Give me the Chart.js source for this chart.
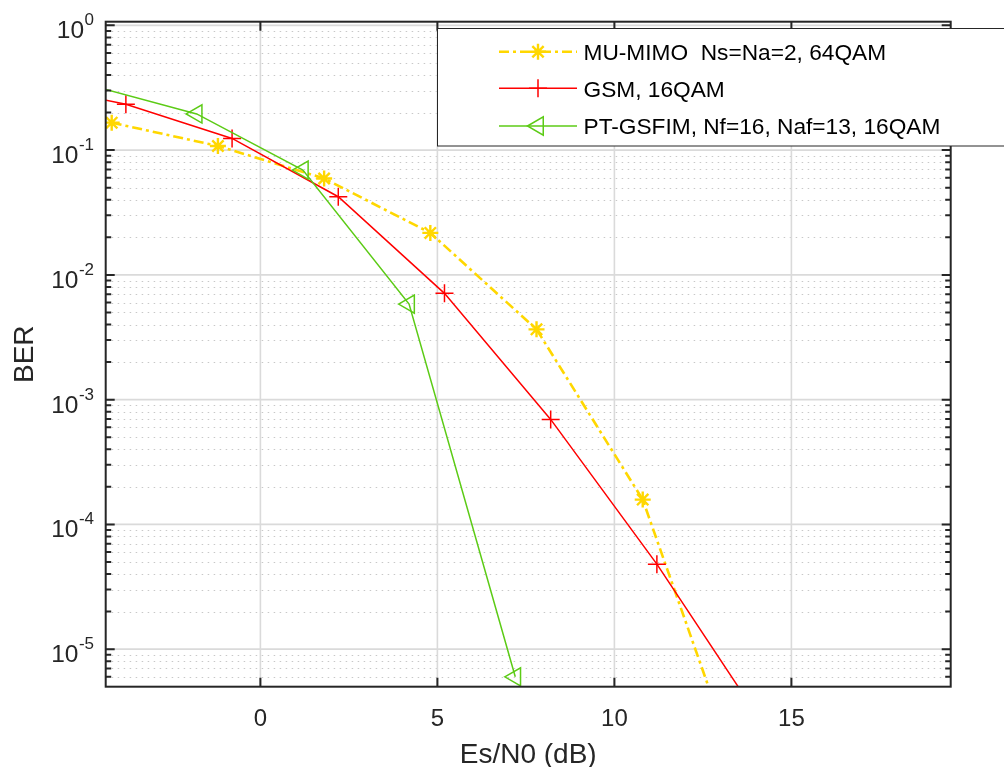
<!DOCTYPE html>
<html>
<head>
<meta charset="utf-8">
<title>BER vs Es/N0</title>
<script src="https://cdn.jsdelivr.net/npm/chart.js@4.4.0/dist/chart.umd.min.js"></script>
<style>
  html, body { margin: 0; padding: 0; background: #fff; }
  #wrap { width: 1004px; height: 767px; position: relative; }
</style>
</head>
<body>
<div id="wrap"><canvas id="berChart"></canvas></div>
<script>
// Values
const snrMimo  = [-4.2, -1.2, 1.8, 4.8, 7.8, 10.8, 13.8];
const berMimo  = [0.166, 0.108, 0.0593, 0.0217, 0.00366, 1.58e-4, 6e-7];
const snrGsm   = [-6.8, -3.8, -0.8, 2.2, 5.2, 8.2, 11.2, 14.2];
const berGsm   = [0.35, 0.233, 0.124, 0.0423, 0.00711, 6.94e-4, 4.8e-5, 2.5e-6];
const snrGsfim = [-4.8, -1.8, 1.2, 4.2, 7.2];
const berGsfim = [0.331, 0.195, 0.0692, 0.00583, 6.0e-6];

const seriesNames = ['MU-MIMO  Ns=Na=2, 64QAM', 'GSM, 16QAM', 'PT-GSFIM, Nf=16, Naf=13, 16QAM'];
const xTicks = [0, 5, 10, 15];
const yExponents = [0, -1, -2, -3, -4, -5];
const xTitle = 'Es/N0 (dB)';
const yTitle = 'BER';

const FONT = '"Liberation Sans", Arial, Helvetica, sans-serif';
const AXIS = '#262626';
const YELLOW = '#ffd700';
const RED = '#ff0000';
const GREEN = '#5ccb16';

function toPoints(xs, ys) {
    return xs.map((x, i) => ({ x: x, y: ys[i] }));
}

// marker shapes for the legend (same look as the chart points)
function drawMarker(ctx, kind, x, y, r) {
    ctx.beginPath();
    if (kind === 'star') {
        const d = r * Math.SQRT1_2;
        ctx.moveTo(x - r, y); ctx.lineTo(x + r, y);
        ctx.moveTo(x, y - r); ctx.lineTo(x, y + r);
        ctx.moveTo(x - d, y - d); ctx.lineTo(x + d, y + d);
        ctx.moveTo(x - d, y + d); ctx.lineTo(x + d, y - d);
    } else if (kind === 'cross') {
        ctx.moveTo(x - r, y); ctx.lineTo(x + r, y);
        ctx.moveTo(x, y - r); ctx.lineTo(x, y + r);
    } else {
        const h = r * Math.sin(Math.PI / 3);
        ctx.moveTo(x - r, y);
        ctx.lineTo(x + r / 2, y - h);
        ctx.lineTo(x + r / 2, y + h);
        ctx.closePath();
    }
    ctx.stroke();
}

function minorValues(yScale) {
    const out = [];
    for (let k = -6; k <= 0; k++) {
        for (let m = 2; m <= 9; m++) {
            const v = m * Math.pow(10, k);
            if (v > yScale.min && v < yScale.max) out.push(v);
        }
    }
    return out;
}

// MATLAB-like axes: grid, box, inward ticks, labels, legend
const matlabAxes = {
    id: 'matlabAxes',
    beforeDatasetsDraw(chart) {
        const { ctx, chartArea: a, scales: { x, y } } = chart;
        ctx.save();
        ctx.beginPath();
        ctx.rect(a.left, a.top, a.right - a.left, a.bottom - a.top);
        ctx.clip();

        // minor grid (dotted)
        ctx.strokeStyle = '#c8c8c8';
        ctx.lineWidth = 1;
        ctx.setLineDash([1.5, 4.5]);
        minorValues(y).forEach(v => {
            const py = Math.round(y.getPixelForValue(v)) + 0.5;
            ctx.beginPath(); ctx.moveTo(a.left, py); ctx.lineTo(a.right, py); ctx.stroke();
        });

        // major grid
        ctx.setLineDash([]);
        ctx.strokeStyle = '#dadada';
        ctx.lineWidth = 1.6;
        yExponents.forEach(e => {
            const py = y.getPixelForValue(Math.pow(10, e));
            ctx.beginPath(); ctx.moveTo(a.left, py); ctx.lineTo(a.right, py); ctx.stroke();
        });
        xTicks.forEach(t => {
            const px = x.getPixelForValue(t);
            ctx.beginPath(); ctx.moveTo(px, a.top); ctx.lineTo(px, a.bottom); ctx.stroke();
        });
        ctx.restore();
    },
    afterDatasetsDraw(chart) {
        const { ctx, chartArea: a, scales: { x, y } } = chart;
        ctx.save();
        ctx.strokeStyle = AXIS;
        ctx.lineWidth = 2;

        // ticks, pointing inward
        const major = 9, minor = 5.5;
        ctx.beginPath();
        xTicks.forEach(t => {
            const px = x.getPixelForValue(t);
            ctx.moveTo(px, a.bottom); ctx.lineTo(px, a.bottom - major);
            ctx.moveTo(px, a.top); ctx.lineTo(px, a.top + major);
        });
        yExponents.forEach(e => {
            const py = y.getPixelForValue(Math.pow(10, e));
            ctx.moveTo(a.left, py); ctx.lineTo(a.left + major, py);
            ctx.moveTo(a.right, py); ctx.lineTo(a.right - major, py);
        });
        minorValues(y).forEach(v => {
            const py = y.getPixelForValue(v);
            ctx.moveTo(a.left, py); ctx.lineTo(a.left + minor, py);
            ctx.moveTo(a.right, py); ctx.lineTo(a.right - minor, py);
        });
        ctx.stroke();

        // box
        ctx.strokeRect(a.left, a.top, a.right - a.left, a.bottom - a.top);

        // x tick labels
        ctx.fillStyle = AXIS;
        ctx.font = '24px ' + FONT;
        ctx.textAlign = 'center';
        ctx.textBaseline = 'alphabetic';
        xTicks.forEach(t => {
            ctx.fillText(String(t), x.getPixelForValue(t), a.bottom + 39.5);
        });

        // y tick labels as 10^k
        const right = 94;
        yExponents.forEach(e => {
            const py = y.getPixelForValue(Math.pow(10, e));
            const expText = e === 0 ? '0' : '-' + Math.abs(e);
            ctx.textAlign = 'left';
            ctx.font = '17px ' + FONT;
            const ew = ctx.measureText(expText).width;
            ctx.fillText(expText, right - ew, py);
            ctx.font = '24.5px ' + FONT;
            const bw = ctx.measureText('10').width;
            ctx.fillText('10', right - ew - bw - 0.5, py + 13);
        });

        // axis titles
        ctx.font = '28px ' + FONT;
        ctx.textAlign = 'center';
        ctx.fillText(xTitle, (a.left + a.right) / 2, 763);
        ctx.translate(33, (a.top + a.bottom) / 2);
        ctx.rotate(-Math.PI / 2);
        ctx.fillText(yTitle, 0, 0);
        ctx.restore();
    },
    afterDraw(chart) {
        const { ctx } = chart;
        const ds = chart.data.datasets;
        ctx.save();
        // legend box (runs past the right edge like the original)
        ctx.fillStyle = '#ffffff';
        ctx.fillRect(437.5, 28.5, 600, 117.5);
        ctx.strokeStyle = AXIS;
        ctx.lineWidth = 1;
        ctx.strokeRect(437.5, 28.5, 600, 117.5);

        const rows = [51.7, 88.3, 126];
        const kinds = ['star', 'cross', 'triangle'];
        ctx.font = '22.7px ' + FONT;
        ctx.textAlign = 'left';
        ctx.textBaseline = 'alphabetic';
        rows.forEach((ry, i) => {
            const d = ds[i];
            ctx.strokeStyle = d.borderColor;
            ctx.lineWidth = d.borderWidth;
            ctx.setLineDash(d.borderDash || []);
            ctx.beginPath(); ctx.moveTo(499, ry); ctx.lineTo(577, ry); ctx.stroke();
            ctx.setLineDash([]);
            ctx.lineWidth = d.pointBorderWidth;
            drawMarker(ctx, kinds[i], 538, ry, d.pointRadius);
            ctx.fillStyle = '#000000';
            ctx.fillText(d.label, 583.5, ry + 8.2);
        });
        ctx.restore();
    }
};

const ctx = document.getElementById('berChart').getContext('2d');
const berChart = new Chart(ctx, {
    type: 'line',
    data: {
        datasets: [{
            label: seriesNames[0],
            data: toPoints(snrMimo, berMimo),
            borderColor: YELLOW,
            borderWidth: 2.6,
            borderDash: [10, 4, 3, 4],
            pointStyle: 'star',
            pointRadius: 8,
            pointBorderWidth: 2.4,
            pointBorderColor: YELLOW,
            pointBackgroundColor: YELLOW,
            order: 3
        }, {
            label: seriesNames[1],
            data: toPoints(snrGsm, berGsm),
            borderColor: RED,
            borderWidth: 1.5,
            pointStyle: 'cross',
            pointRadius: 9,
            pointBorderWidth: 1.5,
            pointBorderColor: RED,
            pointBackgroundColor: RED,
            order: 2
        }, {
            label: seriesNames[2],
            data: toPoints(snrGsfim, berGsfim),
            borderColor: GREEN,
            borderWidth: 1.5,
            pointStyle: 'triangle',
            pointRotation: -90,
            pointRadius: 10.5,
            pointBorderWidth: 1.5,
            pointBorderColor: GREEN,
            pointBackgroundColor: 'rgba(0,0,0,0)',
            order: 1
        }]
    },
    options: {
        responsive: true,
        maintainAspectRatio: false,
        animation: false,
        events: [],
        layout: {
            padding: { left: 105.7, top: 21.7, right: 53.3, bottom: 80.3 }
        },
        elements: { line: { tension: 0, fill: false } },
        scales: {
            x: { type: 'linear', min: -4.37, max: 19.5, display: false },
            y: { type: 'logarithmic', min: 5e-6, max: 1.07, display: false }
        },
        plugins: {
            legend: { display: false },
            tooltip: { enabled: false }
        }
    },
    plugins: [matlabAxes]
});
</script>
</body>
</html>
